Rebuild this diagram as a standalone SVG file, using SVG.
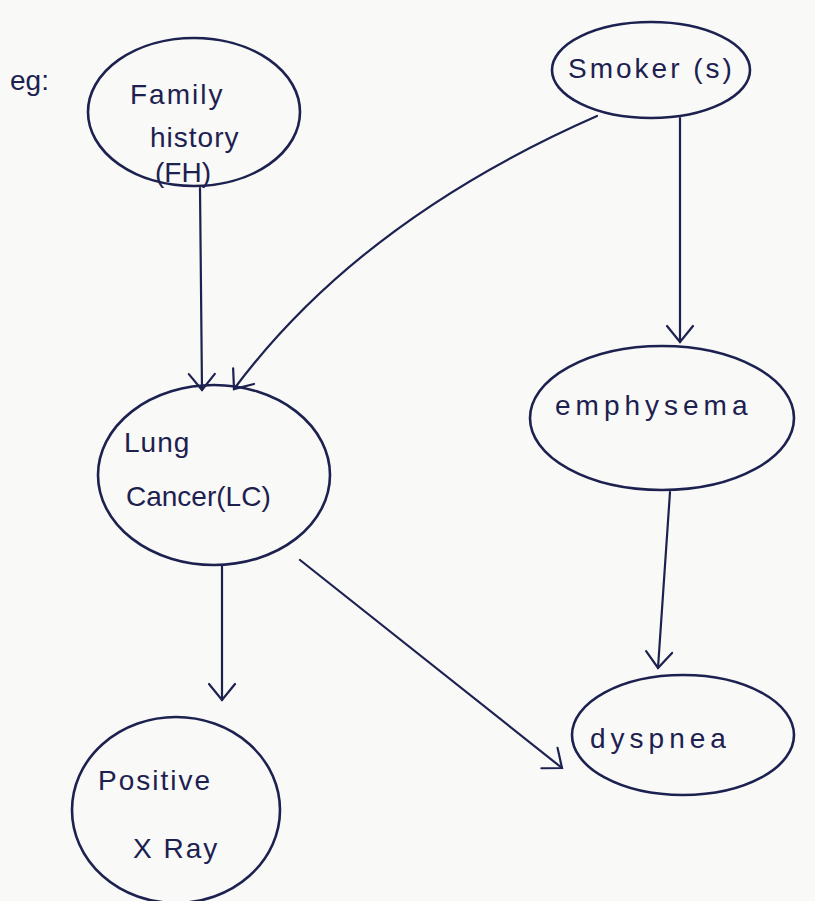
<svg xmlns="http://www.w3.org/2000/svg" width="815" height="901" viewBox="0 0 815 901">
<style>
.n{fill:none;stroke:#1d2150;stroke-width:2.6}
.c{fill:none;stroke:#1d2150;stroke-width:2.2;stroke-linecap:round;stroke-linejoin:round}
.t{font-family:"Liberation Sans",Arial,sans-serif;font-size:28px;fill:#1d2150}
</style>
<defs>
<marker id="ah" markerWidth="30" markerHeight="30" refX="0" refY="0" viewBox="-20 -15 25 30" orient="auto" markerUnits="userSpaceOnUse">
<path d="M-16,-13 L0,0 L-16,13" fill="none" stroke="#1d2150" stroke-width="2.2" stroke-linecap="round"/>
</marker>
</defs>
<rect width="815" height="901" fill="#f9f9f7"/>
<text class="t" x="10" y="90" font-size="24">eg:</text>
<g id="fh">
<ellipse class="n" cx="194" cy="112" rx="106" ry="74"/>
<text class="t" x="130" y="104" letter-spacing="2">Family</text>
<text class="t" x="150" y="147" letter-spacing="1">history</text>
<text class="t" x="155" y="182">(FH)</text>
</g>
<g id="smoker">
<ellipse class="n" cx="651" cy="70" rx="99" ry="48"/>
<text class="t" x="568" y="78" letter-spacing="3">Smoker (s)</text>
</g>
<g id="lc">
<ellipse class="n" cx="214" cy="475" rx="116" ry="90"/>
<text class="t" x="124" y="452" letter-spacing="1">Lung</text>
<text class="t" x="126" y="506">Cancer(LC)</text>
</g>
<g id="emphysema">
<ellipse class="n" cx="662" cy="418" rx="132" ry="72"/>
<text class="t" x="555" y="415" letter-spacing="5">emphysema</text>
</g>
<g id="xray">
<ellipse class="n" cx="176" cy="810" rx="104" ry="93"/>
<text class="t" x="98" y="790" letter-spacing="2">Positive</text>
<text class="t" x="133" y="858" letter-spacing="2">X Ray</text>
</g>
<g id="dyspnea">
<ellipse class="n" cx="683" cy="735" rx="111" ry="60"/>
<text class="t" x="590" y="748" letter-spacing="5">dyspnea</text>
</g>
<g id="connectors">
<path class="c" d="M200,188 L202,390" marker-end="url(#ah)"/>
<path class="c" d="M597,116 Q360,220 234,389" marker-end="url(#ah)"/>
<path class="c" d="M680,118 L680,342" marker-end="url(#ah)"/>
<path class="c" d="M670,492 L658,668" marker-end="url(#ah)"/>
<path class="c" d="M222,566 L222,700" marker-end="url(#ah)"/>
<path class="c" d="M300,560 L562,768" marker-end="url(#ah)"/>
</g>
</svg>
